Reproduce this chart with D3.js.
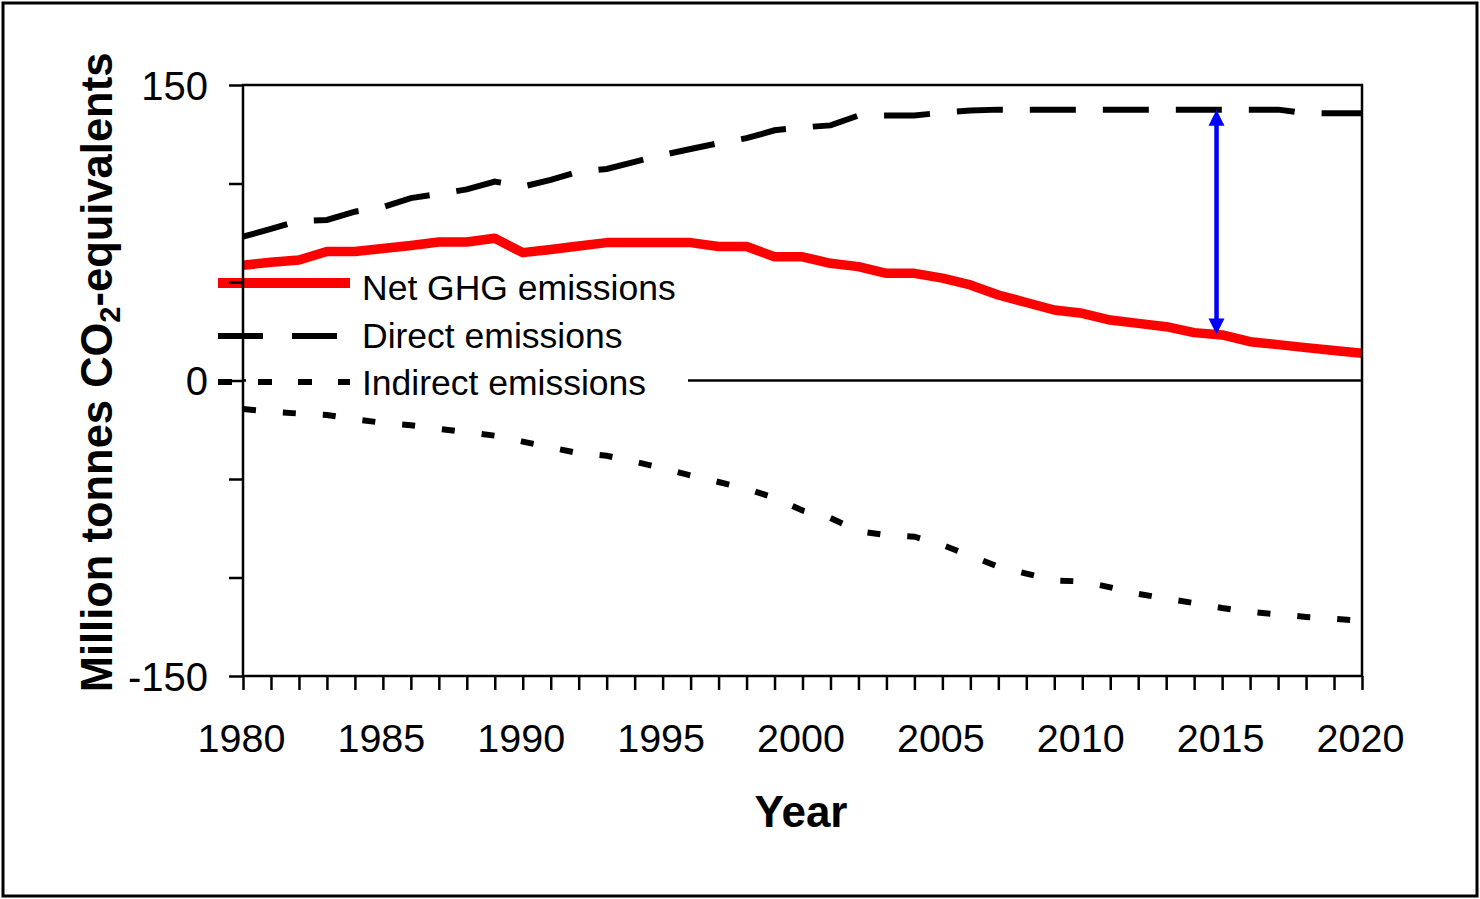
<!DOCTYPE html>
<html>
<head>
<meta charset="utf-8">
<script src="https://cdn.jsdelivr.net/npm/d3@7"></script>
<style>
  html, body { margin: 0; padding: 0; background: #fff; }
  svg { display: block; }
  text { font-family: Arial, "Liberation Sans", sans-serif; fill: #000; }
</style>
</head>
<body>
<svg id="chart" width="1480" height="899"></svg>
<script>
// ---------- data ----------
const years = [1980,1981,1982,1983,1984,1985,1986,1987,1988,1989,
               1990,1991,1992,1993,1994,1995,1996,1997,1998,1999,
               2000,2001,2002,2003,2004,2005,2006,2007,2008,2009,
               2010,2011,2012,2013,2014,2015,2016,2017,2018,2019,2020];

const netValues = [58.5,60,61.2,65.5,65.5,67,68.5,70.3,70.3,72.2,
                   64.9,66.5,68.3,70,70,70,70,68,68,62.8,
                   62.8,59.5,57.8,54.4,54.4,52,48.5,43.4,39.6,35.8,
                   34.1,30.7,29,27.3,24.3,23.1,19.7,18.2,16.7,15.2,13.8];

const directValues = [73,77,81,81.5,85.7,88,92.6,94.7,97,101,
                      98.4,101.8,106,107.4,111,114.5,117.5,120.5,123,127,
                      128.5,129.5,134.5,134.5,134.5,136,137,137.5,137.5,137.5,
                      137.5,137.5,137.5,137.5,137.5,137.5,137.5,137.5,135.6,135.6,135.6];

const indirectValues = [-14.5,-15.8,-16.8,-17.5,-19.7,-21.5,-22.7,-24.5,-26.3,-28,
                        -31,-34,-36.9,-38.2,-41.2,-44.5,-48.2,-51.5,-55,-59.5,
                        -66,-69.8,-76.5,-78.5,-79.3,-83.5,-89,-94.5,-98,-101.5,
                        -102,-105,-108.3,-110.7,-113,-115.5,-117.5,-118.7,-120,-121,-122];

const seriesNames = ["Net GHG emissions", "Direct emissions", "Indirect emissions"];
const xTickLabels = ["1980","1985","1990","1995","2000","2005","2010","2015","2020"];
const yTickLabels = ["-150","0","150"];
const yMinorTicks = [-150,-100,-50,0,50,100,150];
const arrowYear = 2014.8;

// ---------- layout ----------
const svg = d3.select("#chart");
const L = 243, R = 1362, T = 85, B = 676;
const x = d3.scaleLinear().domain([1980, 2020]).range([L, R]);
const y = d3.scaleLinear().domain([-150, 150]).range([B, T]);
const font = 'Arial, "Liberation Sans", sans-serif';

// outer frame
svg.append("rect").attr("x", 3).attr("y", 3).attr("width", 1474).attr("height", 893)
  .attr("fill", "#fff").attr("stroke", "#000").attr("stroke-width", 3);

// zero line
svg.append("line").attr("x1", L).attr("x2", R).attr("y1", y(0)).attr("y2", y(0))
  .attr("stroke", "#000").attr("stroke-width", 2.5);

// legend background (hides zero line behind legend)
svg.append("rect").attr("x", 246).attr("y", 271).attr("width", 442).attr("height", 126)
  .attr("fill", "#fff");

// ---------- series ----------
const rows = years.map((yr, i) => ({yr, net: netValues[i], direct: directValues[i], indirect: indirectValues[i]}));
const lineGen = key => d3.line().x(d => x(d.yr)).y(d => y(d[key]));

svg.append("path").datum(rows).attr("d", lineGen("indirect"))
  .attr("fill", "none").attr("stroke", "#000").attr("stroke-width", 6)
  .attr("stroke-dasharray", "13,27");

svg.append("path").datum(rows).attr("d", lineGen("direct"))
  .attr("fill", "none").attr("stroke", "#000").attr("stroke-width", 6)
  .attr("stroke-dasharray", "46,27");

svg.append("path").datum(rows).attr("d", lineGen("net"))
  .attr("fill", "none").attr("stroke", "#ff0000").attr("stroke-width", 9.5)
  .attr("stroke-linejoin", "round");

// ---------- blue double arrow ----------
const interpAt = (vals, yr) => {
  const i = Math.min(years.length - 2, Math.max(0, d3.bisectRight(years, yr) - 1));
  const t = (yr - years[i]) / (years[i + 1] - years[i]);
  return vals[i] + t * (vals[i + 1] - vals[i]);
};
const ax = x(arrowYear), aTop = y(interpAt(directValues, arrowYear)), aBot = y(interpAt(netValues, arrowYear));
const ah = 16, aw = 8;
svg.append("line").attr("x1", ax).attr("x2", ax).attr("y1", aTop + ah - 2).attr("y2", aBot - ah + 2)
  .attr("stroke", "#0000ff").attr("stroke-width", 4.5);
svg.append("path").attr("d", `M${ax},${aTop} L${ax - aw},${aTop + ah} L${ax + aw},${aTop + ah} Z`)
  .attr("fill", "#0000ff");
svg.append("path").attr("d", `M${ax},${aBot} L${ax - aw},${aBot - ah} L${ax + aw},${aBot - ah} Z`)
  .attr("fill", "#0000ff");

// ---------- legend ----------
const legY = [283, 336, 382];
const legText = [300, 348, 395];
const legX1 = 218, legX2 = 350;
svg.append("line").attr("x1", legX1).attr("x2", legX2).attr("y1", legY[0]).attr("y2", legY[0])
  .attr("stroke", "#ff0000").attr("stroke-width", 10);
svg.append("line").attr("x1", legX1).attr("x2", legX2).attr("y1", legY[1]).attr("y2", legY[1])
  .attr("stroke", "#000").attr("stroke-width", 6).attr("stroke-dasharray", "45,29");
svg.append("line").attr("x1", legX1).attr("x2", legX2).attr("y1", legY[2]).attr("y2", legY[2])
  .attr("stroke", "#000").attr("stroke-width", 6).attr("stroke-dasharray", "14,26");
seriesNames.forEach((name, i) => {
  svg.append("text").attr("x", 362).attr("y", legText[i])
    .style("font-size", "35.5px").style("font-family", font).text(name);
});

// ---------- axes / frame ----------
svg.append("rect").attr("x", L).attr("y", T).attr("width", R - L).attr("height", B - T)
  .attr("fill", "none").attr("stroke", "#000").attr("stroke-width", 2.5);

const xAxis = d3.axisBottom(x)
  .tickValues(years)
  .tickSize(14)
  .tickFormat(d => xTickLabels.includes(String(d)) ? String(d) : "");
const gx = svg.append("g").attr("transform", `translate(0,${B})`).call(xAxis);
gx.select(".domain").remove();
gx.selectAll(".tick line").attr("stroke", "#000").attr("stroke-width", 2.5);
gx.selectAll(".tick text").attr("y", 0).attr("dy", 0)
  .attr("transform", "translate(-2,76)")
  .style("font-size", "39.5px").style("font-family", font).attr("fill", "#000");

const yAxis = d3.axisLeft(y)
  .tickValues(yMinorTicks)
  .tickSize(14)
  .tickFormat(d => yTickLabels.includes(String(d)) ? String(d) : "");
const gy = svg.append("g").attr("transform", `translate(${L},0)`).call(yAxis);
gy.select(".domain").remove();
gy.selectAll(".tick line").attr("stroke", "#000").attr("stroke-width", 2.5);
gy.selectAll(".tick text").attr("x", -35).attr("dy", 0).attr("y", 14)
  .style("font-size", "40px").style("font-family", font).attr("fill", "#000");

// axis titles
svg.append("text").attr("x", 801).attr("y", 827).attr("text-anchor", "middle")
  .style("font-size", "44px").style("font-weight", "bold").style("font-family", font).text("Year");

const yt = svg.append("text").attr("transform", `translate(112,${(T + B) / 2 - 8}) rotate(-90)`)
  .attr("text-anchor", "middle")
  .style("font-size", "43.5px").style("font-weight", "bold").style("font-family", font);
yt.append("tspan").text("Million tonnes CO");
yt.append("tspan").attr("dy", 8).style("font-size", "29px").text("2");
yt.append("tspan").attr("dy", -8).text("-equivalents");
</script>
</body>
</html>
